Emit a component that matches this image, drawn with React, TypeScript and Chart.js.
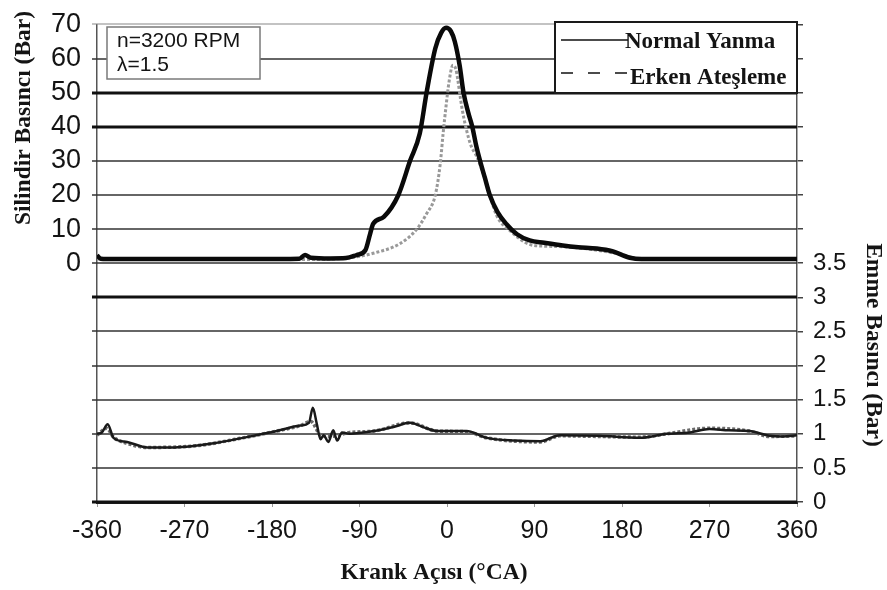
import React, { useEffect, useRef } from "react";
import { Chart, registerables } from "chart.js";

Chart.register(...registerables);

// Axis ticks
const xTickValues = [-360, -270, -180, -90, 0, 90, 180, 270, 360];
const leftTickValues = [-70, -60, -50, -40, -30, -20, -10, 0, 10, 20, 30, 40, 50, 60, 70];
const rightTickValues = [0, 0.5, 1, 1.5, 2, 2.5, 3, 3.5, 4, 4.5, 5, 5.5, 6, 6.5, 7];
const boldLeftValues = [50, 40, -10, -70];

// Cylinder pressure - Normal Yanma
const normalAngles = [-360, -356, -350, -300, -200, -152, -146, -140, -120, -104, -93, -84, -79, -76, -65, -50, -38, -28, -21, -12, -6, -1, 4, 8, 13, 17, 22, 26, 30, 34, 39, 44, 52, 61, 72, 85, 100, 119, 135, 154, 170, 188, 200, 250, 300, 360];
const normalPressure = [2.3, 1.3, 1.2, 1.2, 1.2, 1.3, 2.4, 1.6, 1.4, 1.5, 2.4, 3.8, 8.7, 11.5, 13.6, 20, 30, 38, 50, 63, 67.5, 69, 68, 65, 58, 50, 44, 40, 34.5, 30, 25, 20, 15, 11.5, 8.5, 6.7, 6, 5.2, 4.7, 4.3, 3.5, 1.6, 1.2, 1.2, 1.2, 1.2];

// Cylinder pressure - Erken Ateşleme
const earlyAngles = [-360, -300, -200, -150, -120, -97, -76, -48, -31, -21, -12, -7, -4, -1, 2, 6, 9, 11, 14, 17, 24, 31, 40, 51, 65, 85, 100, 120, 150, 180, 200, 250, 300, 360];
const earlyPressure = [1.2, 1.1, 1.1, 1.1, 1.2, 1.7, 2.9, 5.8, 10, 14.5, 20, 29, 38, 46, 53, 58, 57, 54, 48, 43, 35, 31, 24, 14, 9.5, 5.5, 5, 4.8, 4, 2.5, 1.2, 1.1, 1.1, 1.1];

// Intake pressure - Normal Yanma
const normalIntakeAngles = [-360, -355, -349, -343, -329, -308, -280, -261, -240, -210, -175, -151, -142, -138, -134, -130, -127, -122, -117, -113, -108, -100, -75, -55, -38, -25, -10, 20, 41, 70, 96, 116, 157, 198, 226, 250, 270, 290, 311, 332, 345, 360];
const normalIntake = [1.0, 1.02, 1.14, 0.94, 0.88, 0.8, 0.8, 0.82, 0.86, 0.94, 1.04, 1.12, 1.16, 1.38, 1.15, 0.92, 0.98, 0.88, 1.05, 0.9, 1.02, 1.0, 1.04, 1.1, 1.16, 1.1, 1.04, 1.04, 0.94, 0.9, 0.89, 0.98, 0.97, 0.94, 1.0, 1.02, 1.07, 1.05, 1.04, 0.97, 0.96, 0.98];

// Intake pressure - Erken Ateşleme
const earlyIntakeAngles = [-360, -350, -343, -329, -308, -261, -210, -175, -151, -140, -130, -120, -100, -75, -38, -10, 20, 41, 96, 116, 157, 198, 226, 270, 311, 332, 360];
const earlyIntake = [0.98, 1.08, 0.95, 0.86, 0.8, 0.82, 0.94, 1.04, 1.12, 1.18, 0.98, 0.96, 1.02, 1.04, 1.16, 1.04, 1.03, 0.94, 0.88, 0.97, 0.96, 0.95, 1.0, 1.08, 1.04, 0.96, 0.97];

const leftTitle = "Silindir Basıncı (Bar)";
const rightTitle = "Emme Basıncı (Bar)";
const xTitle = "Krank Açısı (°CA)";
const legendLabels = ["Normal Yanma", "Erken Ateşleme"];
const infoLines = ["n=3200 RPM", "λ=1.5"];

const toPoints = (xs: number[], ys: number[]) => xs.map((x, i) => ({ x, y: ys[i] }));

const TEXT = "#141414";
const TICK_FONT = "Liberation Sans, Arial, sans-serif";
const SERIF = "Liberation Serif, Times New Roman, serif";

// horizontal grid lines drawn from the left scale's own pixel mapping
const gridPlugin = {
  id: "hgrid",
  beforeDatasetsDraw(chart: any) {
    const ctx = chart.ctx as CanvasRenderingContext2D;
    const ys = chart.scales.y;
    const { left, right } = chart.chartArea;
    ctx.save();
    leftTickValues.forEach((v) => {
      const isBold = boldLeftValues.includes(v);
      const py = Math.round(ys.getPixelForValue(v));
      ctx.beginPath();
      ctx.lineWidth = isBold ? 3 : v === 70 ? 1.2 : 1.5;
      ctx.strokeStyle = isBold ? "#111" : v === 70 ? "#888" : "#333";
      ctx.moveTo(left - 5, py);
      ctx.lineTo(right, py);
      ctx.stroke();
    });
    ctx.restore();
  },
};

const overlayPlugin = {
  id: "overlay",
  afterDraw(chart: any) {
    const ctx = chart.ctx as CanvasRenderingContext2D;
    ctx.save();
    // info box
    ctx.fillStyle = "#fff";
    ctx.fillRect(107, 27, 153, 52);
    ctx.strokeStyle = "#7a7a7a";
    ctx.lineWidth = 1.5;
    ctx.strokeRect(107, 27, 153, 52);
    ctx.fillStyle = TEXT;
    ctx.font = `21px ${TICK_FONT}`;
    ctx.textAlign = "left";
    ctx.textBaseline = "middle";
    ctx.fillText(infoLines[0], 117, 41);
    ctx.fillText(infoLines[1], 117, 65);

    // legend box
    ctx.fillStyle = "#fff";
    ctx.fillRect(555, 22, 242, 71);
    ctx.strokeStyle = "#1a1a1a";
    ctx.lineWidth = 2;
    ctx.strokeRect(555, 22, 242, 71);
    ctx.strokeStyle = "#111";
    ctx.lineWidth = 1.5;
    ctx.beginPath();
    ctx.moveTo(561, 40);
    ctx.lineTo(628, 40);
    ctx.stroke();
    ctx.setLineDash([12, 15]);
    ctx.beginPath();
    ctx.moveTo(561, 73);
    ctx.lineTo(630, 73);
    ctx.stroke();
    ctx.setLineDash([]);
    ctx.fillStyle = TEXT;
    ctx.font = `bold 23px ${SERIF}`;
    ctx.textBaseline = "middle";
    ctx.fillText(legendLabels[0], 625, 42);
    ctx.fillText(legendLabels[1], 630, 78);

    // axis titles
    ctx.font = `bold 23.5px ${SERIF}`;
    ctx.textAlign = "center";
    ctx.save();
    ctx.translate(24, 118);
    ctx.rotate(-Math.PI / 2);
    ctx.fillText(leftTitle, 0, 0);
    ctx.restore();
    ctx.save();
    ctx.translate(873, 345);
    ctx.rotate(Math.PI / 2);
    ctx.fillText(rightTitle, 0, 0);
    ctx.restore();
    ctx.fillText(xTitle, 434, 573);
    ctx.restore();
  },
};

export default function App() {
  const ref = useRef<HTMLCanvasElement>(null);
  useEffect(() => {
    const chart = new Chart(ref.current as HTMLCanvasElement, {
      type: "line",
      data: {
        datasets: [
          {
            label: legendLabels[0],
            data: toPoints(normalAngles, normalPressure),
            borderColor: "#0a0a0a",
            borderWidth: 4.5,
            pointRadius: 0,
            cubicInterpolationMode: "monotone",
            yAxisID: "y",
          },
          {
            label: legendLabels[1],
            data: toPoints(earlyAngles, earlyPressure),
            borderColor: "#999",
            borderWidth: 3,
            borderDash: [3, 2],
            pointRadius: 0,
            cubicInterpolationMode: "monotone",
            yAxisID: "y",
          },
          {
            label: legendLabels[0] + " (emme)",
            data: toPoints(normalIntakeAngles, normalIntake),
            borderColor: "#1a1a1a",
            borderWidth: 2.5,
            pointRadius: 0,
            cubicInterpolationMode: "monotone",
            yAxisID: "y2",
          },
          {
            label: legendLabels[1] + " (emme)",
            data: toPoints(earlyIntakeAngles, earlyIntake),
            borderColor: "#6a6a6a",
            borderWidth: 3.5,
            borderDash: [3, 2],
            pointRadius: 0,
            cubicInterpolationMode: "monotone",
            yAxisID: "y2",
          },
        ],
      },
      options: {
        responsive: false,
        animation: false,
        devicePixelRatio: 1,
        layout: { padding: { top: 20, left: 0, right: 0, bottom: 0 } },
        plugins: { legend: { display: false }, tooltip: { enabled: false } },
        scales: {
          x: {
            type: "linear",
            min: -360,
            max: 360,
            afterBuildTicks: (s: any) => {
              s.ticks = xTickValues.map((v) => ({ value: v }));
            },
            afterFit: (s: any) => {
              s.height = 88;
            },
            ticks: {
              autoSkip: false,
              color: TEXT,
              font: { family: TICK_FONT, size: 25 },
              padding: 9,
              maxRotation: 0,
              callback: (v: any) => String(v),
            },
            grid: { display: true, drawOnChartArea: false, drawTicks: true, tickLength: 5, color: "#999", lineWidth: 1 },
            border: { display: true, color: "#222", width: 3 },
          },
          y: {
            position: "left",
            min: -70,
            max: 70,
            afterBuildTicks: (s: any) => {
              s.ticks = leftTickValues.map((v) => ({ value: v }));
            },
            afterFit: (s: any) => {
              s.width = 97;
            },
            ticks: {
              autoSkip: false,
              color: TEXT,
              font: { family: TICK_FONT, size: 27 },
              padding: 8,
              callback: (v: any) => (Number(v) >= 0 ? String(v) : ""),
            },
            grid: { display: false },
            border: { display: true, color: "#555", width: 1.5 },
          },
          y2: {
            position: "right",
            min: 0,
            max: 7,
            afterBuildTicks: (s: any) => {
              s.ticks = rightTickValues.map((v) => ({ value: v }));
            },
            afterFit: (s: any) => {
              s.width = 90;
            },
            ticks: {
              autoSkip: false,
              color: TEXT,
              font: { family: TICK_FONT, size: 24 },
              padding: 10,
              callback: (v: any) => (Number(v) <= 3.5 ? String(v) : ""),
            },
            grid: { drawOnChartArea: false, drawTicks: true, tickLength: 6, color: "#444", lineWidth: 1.5 },
            border: { display: true, color: "#555", width: 1.5 },
          },
        },
      },
      plugins: [gridPlugin, overlayPlugin],
    } as any);
    return () => chart.destroy();
  }, []);
  return (
    <div style={{ position: "absolute", left: 0, top: 0, width: 887, height: 590, background: "#fff" }}>
      <canvas ref={ref} width={887} height={590} style={{ width: 887, height: 590, display: "block" }} />
    </div>
  );
}
